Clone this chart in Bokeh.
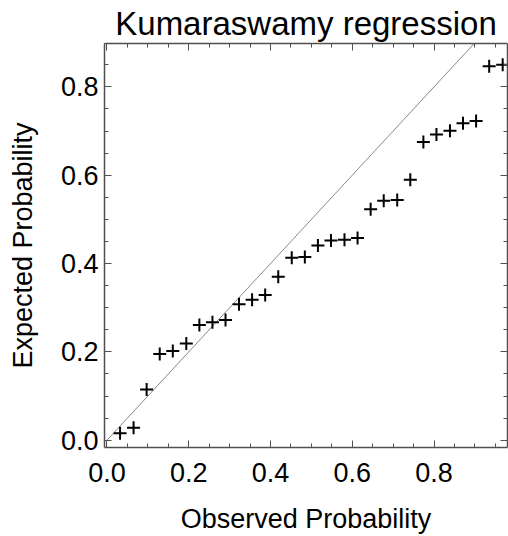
from bokeh.plotting import figure
from bokeh.models import LinearAxis, SingleIntervalTicker, Range1d, CustomJSTickFormatter, PrintfTickFormatter
from bokeh.embed import file_html
from bokeh.resources import INLINE

observed = [0.032, 0.065, 0.097, 0.129, 0.161, 0.194, 0.226, 0.258, 0.290, 0.323,
            0.355, 0.387, 0.419, 0.452, 0.484, 0.516, 0.548, 0.581, 0.613, 0.645,
            0.677, 0.710, 0.742, 0.774, 0.806, 0.839, 0.871, 0.903, 0.935, 0.968]
expected = [0.016, 0.028, 0.115, 0.195, 0.202, 0.219, 0.261, 0.267, 0.272, 0.308,
            0.318, 0.329, 0.370, 0.413, 0.415, 0.441, 0.452, 0.454, 0.458, 0.523,
            0.542, 0.544, 0.590, 0.675, 0.692, 0.701, 0.718, 0.723, 0.847, 0.850]
ref_line = [0.0, 1.0]

FONT = "Liberation Sans"
AX = "#505050"

p = figure(output_backend="svg", toolbar_location=None,
           frame_width=403, frame_height=404,
           min_border_left=104, min_border_right=1, min_border_top=43, min_border_bottom=70,
           x_range=Range1d(-0.0061, 0.9798), y_range=Range1d(-0.0165, 0.8983),
           x_axis_location=None, y_axis_location=None)
p.outline_line_color = None
p.grid.visible = False

p.title.text = "Kumaraswamy regression"
p.title.align = "center"
p.title.text_font = FONT
p.title.text_font_size = "33px"
p.title.text_font_style = "normal"
p.title.text_color = "black"
p.title.standoff = 4

def style(ax, labels=True):
    ax.ticker = SingleIntervalTicker(interval=0.2, num_minor_ticks=4)
    ax.axis_line_color = AX
    ax.axis_line_width = 1.5
    ax.major_tick_line_color = AX
    ax.minor_tick_line_color = AX
    ax.major_tick_in = 7
    ax.major_tick_out = 0
    ax.minor_tick_in = 4
    ax.minor_tick_out = 0
    ax.major_label_text_font = FONT
    ax.major_label_text_font_size = "27px"
    ax.major_label_text_color = "black"
    ax.axis_label_text_font = FONT
    ax.axis_label_text_font_size = "27px"
    ax.axis_label_text_font_style = "normal"
    ax.axis_label_text_color = "black"
    if labels:
        ax.formatter = PrintfTickFormatter(format="%.1f")
    else:
        ax.formatter = CustomJSTickFormatter(code="return ''")
        ax.major_label_standoff = 0

xb = LinearAxis(axis_label="Observed Probability")
style(xb)
xb.major_label_standoff = 15
xb.axis_label_standoff = 19
yl = LinearAxis(axis_label="Expected Probability")
style(yl)
yl.major_label_standoff = 6
yl.axis_label_standoff = 20
xt = LinearAxis()
style(xt, labels=False)
yr = LinearAxis()
style(yr, labels=False)
p.add_layout(xb, "below")
p.add_layout(yl, "left")
p.add_layout(xt, "above")
p.add_layout(yr, "right")

p.line(ref_line, ref_line, line_color="#888888", line_width=1)
p.scatter(observed, expected, marker="cross", size=13, line_width=2, line_color="black")

open("out.html", "w").write(file_html(p, INLINE))
